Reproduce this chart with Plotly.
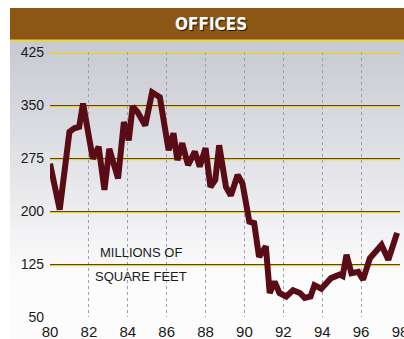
import plotly.graph_objects as go

# Office space series (millions of square feet)
years = [80.0, 80.5, 81.0, 81.25, 81.5, 81.7, 82.2, 82.5, 82.8, 83.05, 83.5, 83.8,
         84.05, 84.25, 84.5, 84.9, 85.25, 85.65, 86.1, 86.35, 86.55, 86.8, 87.1,
         87.45, 87.7, 88.0, 88.25, 88.5, 88.7, 89.05, 89.3, 89.65, 89.9, 90.25,
         90.5, 90.75, 91.1, 91.3, 91.55, 91.8, 92.15, 92.5, 92.85, 93.1, 93.4,
         93.6, 93.95, 94.45, 94.9, 95.05, 95.25, 95.5, 95.85, 96.1, 96.45, 97.05,
         97.4, 97.85]
offices = [267, 202, 312, 317, 319, 352, 274, 291, 230, 288, 246, 326,
           300, 348, 340, 321, 368, 361, 286, 310, 272, 296, 265,
           284, 263, 289, 234, 244, 293, 234, 222, 251, 239, 185,
           183, 135, 150, 84, 100, 84, 79, 88, 84, 77, 79,
           95, 90, 105, 110, 108, 138, 112, 114, 103, 133, 152,
           131, 169]

x_ticks = [80, 82, 84, 86, 88, 90, 92, 94, 96, 98]
y_ticks = [50, 125, 200, 275, 350, 425]

W, H = 404, 339
M = dict(l=50, r=4, t=52, b=22)
plot_h = H - M['t'] - M['b']
plot_w = W - M['l'] - M['r']


def py(px):
    # pixel row -> paper y
    return (H - M['b'] - px) / plot_h


def px_x(px):
    # pixel column -> paper x
    return (px - M['l']) / plot_w


fig = go.Figure()

fig.add_trace(go.Scatter(
    x=years, y=offices, mode='lines',
    line=dict(color='#5a0c16', width=6),
    hoverinfo='skip', showlegend=False
))

shapes = []
# gray-to-white panel gradient made of strips
top_px, bot_px = 40, H
n = 40
c0 = (200, 202, 210)
c1 = (252, 252, 252)
for i in range(n):
    t = i / (n - 1)
    t2 = min(1.0, t * 1.25)
    c = tuple(int(c0[k] + (c1[k] - c0[k]) * t2) for k in range(3))
    y_a = top_px + (bot_px - top_px) * i / n
    y_b = top_px + (bot_px - top_px) * (i + 1) / n + 0.5
    shapes.append(dict(type='rect', xref='paper', yref='paper', layer='below',
                       x0=px_x(10), x1=px_x(W + 2), y0=py(y_b), y1=py(y_a),
                       fillcolor='rgb(%d,%d,%d)' % c, line=dict(width=0)))

# yellow highlight just under each horizontal gridline
for v in y_ticks:
    shapes.append(dict(type='line', xref='x', yref='y', layer='below',
                       x0=80, x1=98, ysizemode='pixel', yanchor=v, y0=-1.5, y1=-1.5,
                       line=dict(color='#e2d232', width=1.3)))

# title bar
shapes.append(dict(type='rect', xref='paper', yref='paper',
                   x0=px_x(10), x1=px_x(W + 2), y0=py(40), y1=py(8),
                   fillcolor='#8c5614', line=dict(width=0)))
shapes.append(dict(type='line', xref='paper', yref='paper',
                   x0=px_x(10), x1=px_x(W + 2), y0=py(40.5), y1=py(40.5),
                   line=dict(color='#e6d63a', width=2)))

fig.update_layout(
    width=W, height=H,
    margin=M,
    paper_bgcolor='white',
    plot_bgcolor='rgba(0,0,0,0)',
    shapes=shapes,
    xaxis=dict(
        range=[80, 98], tickvals=x_ticks, ticktext=[str(v) for v in x_ticks],
        showgrid=True, gridcolor='#98a0b4', gridwidth=1, griddash='dot',
        zeroline=False, showline=False, ticks='', ticklabelstandoff=4,
        ticklabeloverflow='allow', automargin=False,
        tickfont=dict(family='Arial, Liberation Sans', size=15, color='#1a1a1a'),
        fixedrange=True
    ),
    yaxis=dict(
        range=[50, 425], tickvals=y_ticks,
        showgrid=True, gridcolor='#5e4320', gridwidth=1.2,
        zeroline=False, showline=False, ticks='', ticklabelstandoff=5,
        ticklabeloverflow='allow', automargin=False,
        tickfont=dict(family='Arial, Liberation Sans', size=14, color='#1a1a1a'),
        fixedrange=True
    ),
    annotations=[
        dict(text='<b>OFFICES</b>', xref='paper', yref='paper',
             x=px_x(211), y=py(24), yanchor='middle', xanchor='center', showarrow=False,
             font=dict(family='DejaVu Sans Condensed', size=17, color='white',
                       shadow='1px 1px 0px #2a1400')),
        dict(text='MILLIONS OF', x=84.7, y=141, showarrow=False,
             font=dict(family='Arial, Liberation Sans', size=13, color='#1a1a1a')),
        dict(text='SQUARE FEET', x=84.7, y=107, showarrow=False,
             font=dict(family='Arial, Liberation Sans', size=13, color='#1a1a1a')),
    ],
)

fig.write_html("out.html", config={'displayModeBar': False},
               post_script="document.body.style.margin='0px';")
